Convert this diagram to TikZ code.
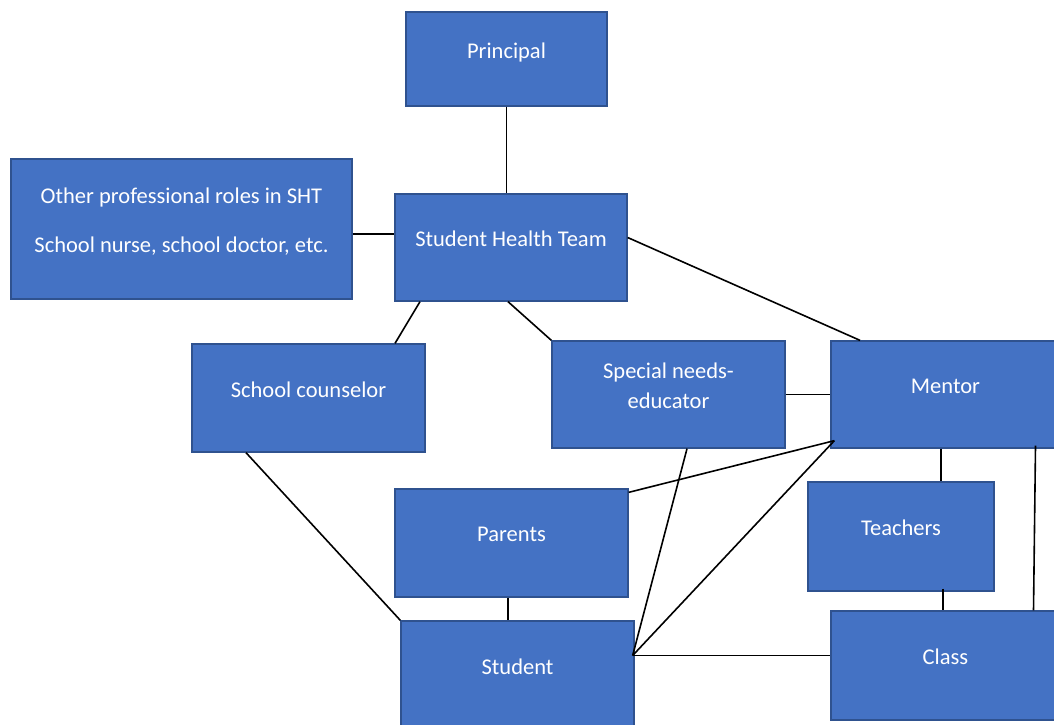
\documentclass[tikz,border=0pt]{standalone}
\usepackage{fontspec}
\setmainfont{Carlito}
\usepackage{tikz}
\usetikzlibrary{calc}
\definecolor{boxblue}{HTML}{4472C4}
\definecolor{boxedge}{HTML}{2F528F}

\begin{document}
\begin{tikzpicture}[x=1pt,y=-1pt,font=\fontsize{22.5}{27}\selectfont,
    box/.style={draw=boxedge,fill=boxblue,line width=1.3pt,text=white,align=center,
        text depth=17pt,inner sep=0pt},
    link/.style={line width=1.6pt,black}]
    \clip (0,0) rectangle (1054,724);
    \fill[white] (0,0) rectangle (1054,724);
    \node[box,minimum width=201pt,minimum height=94pt] (princ) at (506.5,59) {Principal};
    \node[box,minimum width=232pt,minimum height=107pt] (sht) at (511,247.5) {Student Health Team};
    \node[box,minimum width=341pt,minimum height=140pt] (other) at (181.5,229) {Other professional roles in SHT\\[22pt]School nurse, school doctor, etc.};
    \node[box,minimum width=233pt,minimum height=108pt] (couns) at (308.5,398) {School counselor};
    \node[box,minimum width=233pt,minimum height=107pt] (sne) at (668.5,394.5) {Special needs-\\[3pt]educator};
    \node[box,minimum width=259pt,minimum height=107pt] (mentor) at (960.5,394.5) {\hspace*{-30pt}Mentor};
    \node[box,minimum width=233pt,minimum height=108pt] (parents) at (511.5,543) {Parents};
    \node[box,minimum width=186pt,minimum height=109pt] (teach) at (901,536.5) {Teachers};
    \node[box,minimum width=233pt,minimum height=129pt] (student) at (517.5,685.5) {\raisebox{20pt}{Student}};
    \node[box,minimum width=259pt,minimum height=109pt] (class) at (960.5,665.5) {\hspace*{-30pt}Class};
    \coordinate (m) at ([shift={(4pt,8pt)}]mentor.south west);
    \coordinate (s) at ([shift={(-2pt,30pt)}]student.east);
    \draw[link] (princ.south) -- (princ.south |- sht.north);
    \draw[link] ([yshift=-5pt]other.east) -- ([yshift=-5pt]other.east -| sht.west);
    \draw[link] ([yshift=10pt]sht.east) -- ([xshift=-100.5pt]mentor.north);
    \draw[link] ([xshift=-91pt]sht.south) -- ([xshift=86.5pt]couns.north);
    \draw[link] ([xshift=-3pt]sht.south) -- (sne.north west);
    \draw[link] (sne.east) -- (mentor.west);
    \draw[link] ([xshift=-62.5pt]couns.south) -- (student.north west);
    \draw[link] (m) -- ([yshift=-4pt]parents.north east);
    \draw[link] ([xshift=18.5pt]sne.south) -- (s);
    \draw[link] (m) -- (s);
    \draw[link] (s) -- ([yshift=10pt]class.west);
    \draw[link] ([xshift=-3.5pt]parents.south) -- ([xshift=-3.5pt]parents.south |- student.north);
    \draw[link] ([xshift=-19.5pt]mentor.south) -- ([xshift=-19.5pt]mentor.south |- teach.north);
    \draw[link] ([shift={(42pt,3pt)}]teach.south) -- ([xshift=42pt]teach.south |- class.north);
    \draw[link] ([shift={(75pt,3pt)}]mentor.south) -- ([xshift=73pt]class.north);
\end{tikzpicture}
\end{document}
